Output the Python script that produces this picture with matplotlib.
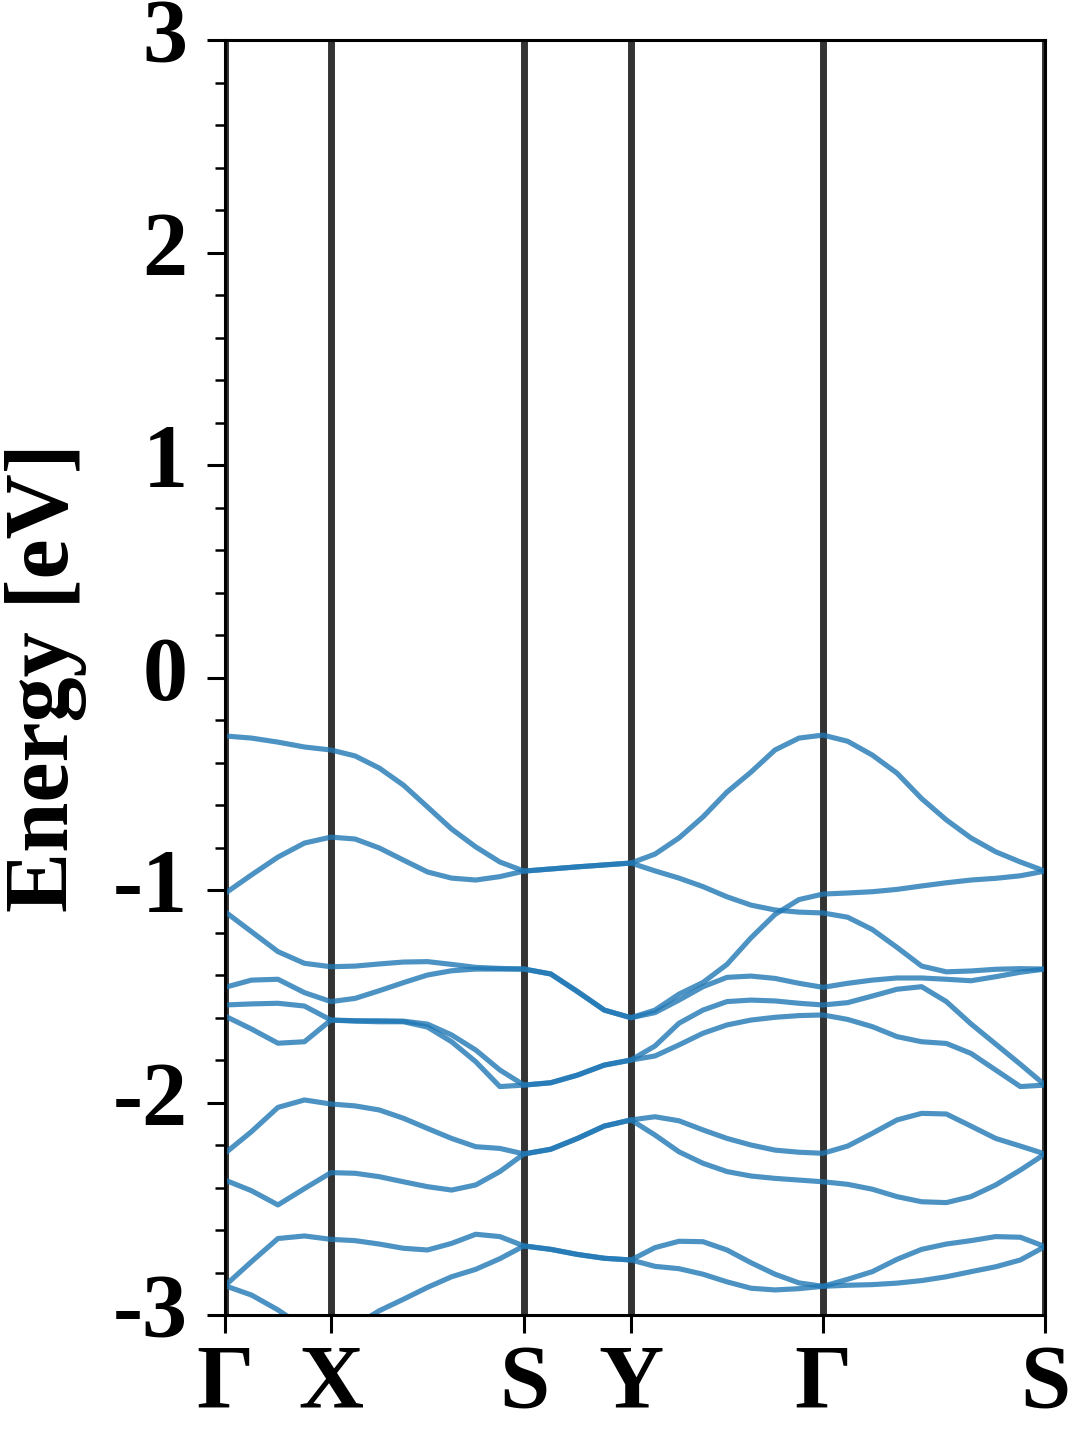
import numpy as np
import matplotlib
matplotlib.use('Agg')
import matplotlib.pyplot as plt

plt.rcParams['font.family'] = ['Liberation Serif', 'DejaVu Serif']
plt.rcParams['font.weight'] = 'bold'
plt.rcParams['axes.unicode_minus'] = False

# high symmetry path
labels = ['Γ', 'X', 'S', 'Y', 'Γ', 'S']
seg_len = [1.06, 1.93, 1.07, 1.92, 2.22]   # path length of each segment
seg_n = [4, 8, 4, 8, 9]                   # sampled intervals per segment

# band energies (eV) read along the path
band1 = [-0.275, -0.285, -0.304, -0.327, -0.341,
         -0.369, -0.426, -0.506, -0.609, -0.713, -0.797, -0.868, -0.911,
         -0.901, -0.891, -0.882, -0.873,
         -0.831, -0.755, -0.656, -0.539, -0.445, -0.341, -0.285, -0.271,
         -0.300, -0.365, -0.450, -0.570, -0.670, -0.755, -0.820, -0.868, -0.911]
band2 = [-1.016, -0.929, -0.845, -0.779, -0.751,
         -0.760, -0.802, -0.859, -0.915, -0.944, -0.953, -0.937, -0.911,
         -0.901, -0.891, -0.882, -0.873,
         -0.910, -0.944, -0.984, -1.032, -1.071, -1.094, -1.104, -1.108,
         -1.128, -1.186, -1.270, -1.358, -1.385, -1.381, -1.373, -1.370, -1.372]
band3 = [-1.102, -1.196, -1.290, -1.345, -1.361,
         -1.358, -1.348, -1.339, -1.337, -1.350, -1.364, -1.369, -1.372,
         -1.395, -1.478, -1.565, -1.601,
         -1.565, -1.490, -1.435, -1.350, -1.225, -1.115, -1.045, -1.019,
         -1.014, -1.008, -0.997, -0.981, -0.966, -0.953, -0.945, -0.933, -0.911]
band4 = [-1.458, -1.424, -1.420, -1.483, -1.525,
         -1.510, -1.474, -1.436, -1.400, -1.380, -1.372, -1.372, -1.372,
         -1.395, -1.478, -1.565, -1.601,
         -1.577, -1.518, -1.455, -1.411, -1.405, -1.416, -1.439, -1.458,
         -1.439, -1.424, -1.414, -1.414, -1.420, -1.427, -1.408, -1.387, -1.372]
band5 = [-1.541, -1.536, -1.533, -1.546, -1.612,
         -1.615, -1.615, -1.617, -1.631, -1.682, -1.753, -1.847, -1.918,
         -1.907, -1.871, -1.824, -1.800,
         -1.734, -1.627, -1.565, -1.525, -1.518, -1.522, -1.533, -1.541,
         -1.530, -1.499, -1.467, -1.455, -1.525, -1.630, -1.725, -1.820, -1.918]
band6 = [-1.593, -1.654, -1.721, -1.714, -1.612,
         -1.617, -1.620, -1.620, -1.645, -1.714, -1.808, -1.925, -1.918,
         -1.907, -1.871, -1.824, -1.800,
         -1.781, -1.729, -1.674, -1.635, -1.612, -1.599, -1.591, -1.588,
         -1.609, -1.643, -1.690, -1.714, -1.722, -1.769, -1.847, -1.925, -1.918]
band7 = [-2.239, -2.137, -2.023, -1.988, -2.007,
         -2.016, -2.035, -2.074, -2.122, -2.169, -2.208, -2.216, -2.242,
         -2.220, -2.169, -2.111, -2.082,
         -2.067, -2.086, -2.129, -2.169, -2.200, -2.224, -2.234, -2.239,
         -2.205, -2.145, -2.082, -2.051, -2.054, -2.111, -2.169, -2.205, -2.242]
band8 = [-2.365, -2.415, -2.482, -2.405, -2.330,
         -2.333, -2.349, -2.373, -2.396, -2.412, -2.388, -2.325, -2.242,
         -2.220, -2.169, -2.111, -2.082,
         -2.153, -2.232, -2.286, -2.325, -2.346, -2.357, -2.365, -2.373,
         -2.385, -2.408, -2.443, -2.467, -2.471, -2.443, -2.388, -2.318, -2.242]
band9 = [-2.862, -2.749, -2.640, -2.628, -2.644,
         -2.650, -2.666, -2.686, -2.694, -2.663, -2.620, -2.631, -2.675,
         -2.691, -2.715, -2.733, -2.741,
         -2.683, -2.653, -2.655, -2.694, -2.754, -2.808, -2.849, -2.865,
         -2.832, -2.796, -2.738, -2.691, -2.666, -2.650, -2.631, -2.634, -2.678]
band10 = [-2.862, -2.906, -2.976, -3.060, -3.090,
          -3.050, -2.980, -2.926, -2.870, -2.820, -2.785, -2.735, -2.675,
          -2.691, -2.715, -2.733, -2.741,
          -2.771, -2.782, -2.808, -2.844, -2.874, -2.882, -2.876, -2.865,
          -2.860, -2.857, -2.850, -2.838, -2.820, -2.796, -2.773, -2.741, -2.678]
bands = [band1, band2, band3, band4, band5, band6, band7, band8, band9, band10]

# k coordinates along the path
ticks = np.concatenate([[0], np.cumsum(seg_len)])
k = [0.0]
for i in range(len(seg_len)):
    k.extend(np.linspace(ticks[i], ticks[i+1], seg_n[i]+1)[1:])
k = np.array(k)

fig = plt.figure(figsize=(10.8, 14.4), dpi=100)
ax = fig.add_axes([0.2083, 0.0868, 0.7593, 0.8854])

for t in ticks:
    ax.axvline(t, color='k', alpha=0.8, lw=5, zorder=1)
for b in bands:
    ax.plot(k, b, color='#1f77b4', alpha=0.8, lw=3.7, zorder=2,
            solid_joinstyle='round', solid_capstyle='round')

ax.set_xlim(ticks[0], ticks[-1])
ax.set_ylim(-3, 3)
ax.set_xticks(ticks)
ax.set_xticklabels(labels)
ax.set_yticks(np.arange(-3, 4, 1))
ax.set_yticks(np.arange(-3, 3.01, 0.2), minor=True)
ax.tick_params(axis='both', which='major', length=13, width=2.2, labelsize=65)
ax.tick_params(axis='x', which='major', pad=8)
ax.tick_params(axis='y', which='major', pad=14)
ax.tick_params(axis='y', which='minor', length=7, width=1.8)
for lab in ax.get_yticklabels():
    lab.set_verticalalignment('center')
for s in ax.spines.values():
    s.set_linewidth(2.2)
ax.set_ylabel('Energy [eV]', fontsize=65, fontweight='bold')
ax.yaxis.set_label_coords(-0.168, 0.5)

fig.savefig('out.png', dpi=100)
